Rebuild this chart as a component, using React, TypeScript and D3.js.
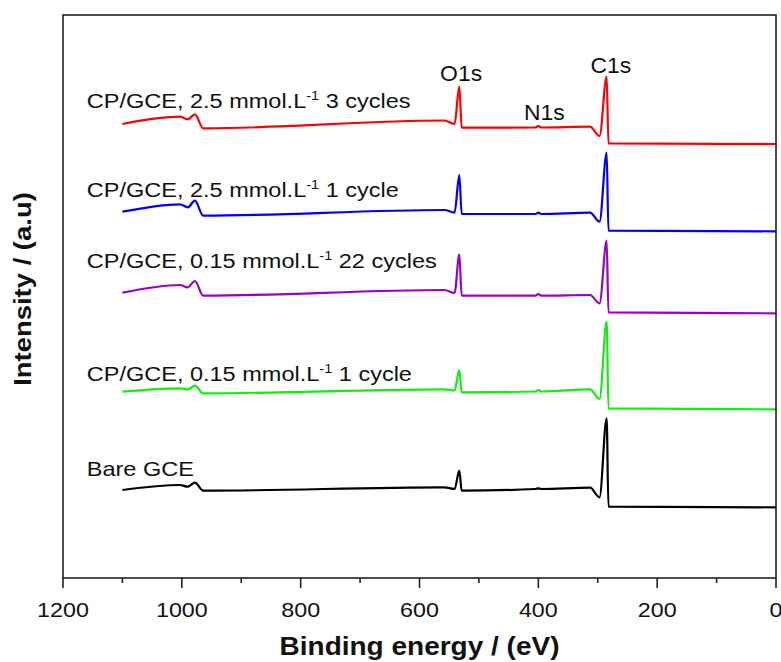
import * as d3 from "d3";
import { useRef, useEffect } from "react";

// binding energies (eV) of the key points
const energy = [1100, 1003, 990, 978, 964, 558, 541, 533, 529, 405, 400, 395, 313, 297, 285, 282, 0];

// intensities (a.u.), one array per sample, stacked as in the figure
const bareGCE = [88, 93, 91.3, 95.3, 87.3, 90.7, 89, 107.3, 87.3, 89, 89.7, 89, 90.3, 80.7, 159.7, 71.3, 70.7];
const cp015one = [186.3, 189.7, 188.7, 192.3, 184.7, 188.7, 187.5, 208, 185.7, 186.5, 188, 186.5, 188.7, 179, 256.3, 169.7, 168.7];
const cp015twentytwo = [285.3, 293, 290.7, 297, 282.3, 288, 285, 323.7, 282.3, 282.3, 284, 282.3, 283, 274.7, 337.3, 265.7, 264.7];
const cp25one = [366.3, 373.7, 370.7, 377.3, 362.3, 368, 365.3, 403, 364, 364, 365.3, 364, 365.3, 356.3, 425.3, 347.3, 346.7];
const cp25three = [454, 461.3, 458.7, 463.7, 449.7, 457.5, 454, 491.3, 450.3, 450.5, 452, 450.5, 451.3, 442, 501.3, 434.7, 434];

const seriesValues = [cp25three, cp25one, cp015twentytwo, cp015one, bareGCE];
const seriesColors = ["#ff0000", "#0000ff", "#9900cc", "#11ee11", "#000000"];
// label text: [before superscript, superscript, after]
const seriesLabels: [string, string, string][] = [
  ["CP/GCE, 2.5 mmol.L", "-1", " 3 cycles"],
  ["CP/GCE, 2.5 mmol.L", "-1", " 1 cycle"],
  ["CP/GCE, 0.15 mmol.L", "-1", " 22 cycles"],
  ["CP/GCE, 0.15 mmol.L", "-1", " 1 cycle"],
  ["Bare GCE", "", ""],
];
const labelLevels = [469.7, 381.3, 309.7, 197.3, 102];

const peakNames = ["O1s", "N1s", "C1s"];
const peakEnergies = [530, 390, 278];
const peakLevels = [497, 458, 505.3];

const xTicks = [1200, 1000, 800, 600, 400, 200, 0];
const xMinorTicks = [1100, 900, 700, 500, 300, 100];

export default function App() {
  const svgRef = useRef<SVGSVGElement | null>(null);
  const width = 781;
  const height = 662;
  const marginLeft = 63;
  const marginRight = 5;
  const marginTop = 15;
  const marginBottom = 84;

  useEffect(() => {
    document.body.style.margin = "0";

    const x = d3
      .scaleLinear()
      .domain([1200, 0])
      .range([marginLeft, width - marginRight]);

    const y = d3
      .scaleLinear()
      .domain([0, 563])
      .range([height - marginBottom, marginTop]);

    const svg = d3.select(svgRef.current);
    svg.selectAll("*").remove();

    const font = "'Liberation Sans', Arial, sans-serif";
    const stretch = 1.12;

    // spectra
    const line = d3
      .line<number>()
      .x((_, i) => x(energy[i]))
      .y((d) => y(d))
      .curve(d3.curveMonotoneX);

    seriesValues.forEach((vals, k) => {
      svg
        .append("path")
        .datum(vals)
        .attr("fill", "none")
        .attr("stroke", seriesColors[k])
        .attr("stroke-width", 2.2)
        .attr("stroke-linejoin", "round")
        .attr("d", line);
    });

    // frame
    svg
      .append("rect")
      .attr("x", marginLeft)
      .attr("y", marginTop)
      .attr("width", width - marginRight - marginLeft)
      .attr("height", height - marginBottom - marginTop)
      .attr("fill", "none")
      .attr("stroke", "#222")
      .attr("stroke-width", 1.6);

    // x axis ticks
    const xAxis = svg.append("g").attr("transform", `translate(0,${height - marginBottom})`);
    xAxis
      .selectAll("line.major")
      .data(xTicks)
      .join("line")
      .attr("class", "major")
      .attr("x1", (d) => x(d))
      .attr("x2", (d) => x(d))
      .attr("y1", 0)
      .attr("y2", 10)
      .attr("stroke", "#222")
      .attr("stroke-width", 1.6);
    xAxis
      .selectAll("line.minor")
      .data(xMinorTicks)
      .join("line")
      .attr("class", "minor")
      .attr("x1", (d) => x(d))
      .attr("x2", (d) => x(d))
      .attr("y1", 0)
      .attr("y2", 5)
      .attr("stroke", "#222")
      .attr("stroke-width", 1.6);
    xAxis
      .selectAll("text")
      .data(xTicks)
      .join("text")
      .attr("transform", (d) => `translate(${x(d)},39) scale(1.11,1)`)
      .attr("text-anchor", "middle")
      .attr("font-family", font)
      .attr("font-size", 21)
      .attr("fill", "#111")
      .text((d) => d);

    // axis titles
    svg
      .append("text")
      .attr("transform", `translate(${(marginLeft + width - marginRight) / 2},655) scale(${stretch},1)`)
      .attr("text-anchor", "middle")
      .attr("font-family", font)
      .attr("font-weight", "bold")
      .attr("font-size", 25)
      .attr("fill", "#111")
      .text("Binding energy / (eV)");

    svg
      .append("text")
      .attr("transform", `translate(30.5,289) rotate(-90) scale(${stretch},1)`)
      .attr("text-anchor", "middle")
      .attr("font-family", font)
      .attr("font-weight", "bold")
      .attr("font-size", 24.5)
      .attr("fill", "#111")
      .text("Intensity / (a.u)");

    // series labels
    seriesLabels.forEach((lab, k) => {
      const t = svg
        .append("text")
        .attr("transform", `translate(${x(1160)},${y(labelLevels[k])}) scale(${stretch},1)`)
        .attr("font-family", font)
        .attr("font-size", 21)
        .attr("fill", "#111");
      t.append("tspan").text(lab[0]);
      if (lab[1]) {
        t.append("tspan").attr("dy", -8).attr("font-size", 13).text(lab[1]);
        t.append("tspan").attr("dy", 8).text(lab[2]);
      }
    });

    // peak labels
    peakNames.forEach((name, k) => {
      svg
        .append("text")
        .attr("transform", `translate(${x(peakEnergies[k])},${y(peakLevels[k])}) scale(1.04,1)`)
        .attr("text-anchor", "middle")
        .attr("font-family", font)
        .attr("font-size", 22)
        .attr("fill", "#111")
        .text(name);
    });
  }, []);

  return <svg ref={svgRef} width={width} height={height} style={{ display: "block" }}></svg>;
}
